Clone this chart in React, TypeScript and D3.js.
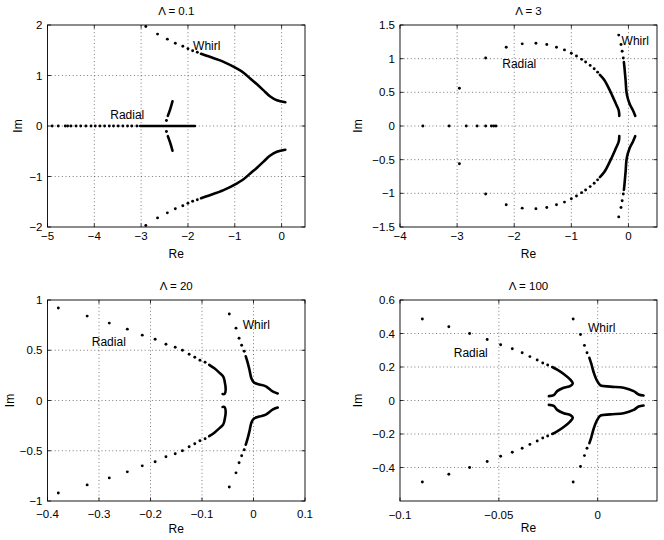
import React from "react";
import * as d3 from "d3";

type Pt = [number, number];

// ---------- Λ = 0.1 ----------
const p1XTicks = [-5, -4, -3, -2, -1, 0];
const p1YTicks = [-2, -1, 0, 1, 2];
const p1WhirlDots: Pt[] = [[-2.9, 1.97], [-2.65, 1.82], [-2.44, 1.72], [-2.27, 1.64], [-2.11, 1.58], [-2.0, 1.53], [-1.9, 1.49], [-1.8, 1.46]];
const p1WhirlTrace: Pt[] = [[-1.72, 1.43], [-1.6, 1.39], [-1.24, 1.27], [-0.96, 1.14], [-0.82, 1.06], [-0.67, 0.94], [-0.53, 0.83], [-0.39, 0.71], [-0.25, 0.59], [-0.1, 0.51], [0.08, 0.47]];
const p1RadialAxisDots: number[] = [-4.9, -4.77, -4.62, -4.57, -4.5, -4.39, -4.29, -4.18, -4.07, -3.98, -3.88, -3.78, -3.68, -3.59, -3.49, -3.39, -3.29, -3.2, -3.09];
const p1RadialAxisTrace: Pt[] = [[-3.02, 0], [-1.85, 0]];
const p1RadialPairDots: Pt[] = [[-2.46, 0.11]];
const p1RadialPairTrace: Pt[] = [[-2.33, 0.49], [-2.38, 0.33], [-2.43, 0.2]];

// ---------- Λ = 3 ----------
const p2XTicks = [-4, -3, -2, -1, 0];
const p2YTicks = [-1.5, -1, -0.5, 0, 0.5, 1, 1.5];
const p2RadialAxisDots: number[] = [-3.6, -3.14, -2.84, -2.65, -2.5, -2.4, -2.36, -2.32];
const p2RadialDots: Pt[] = [[-2.96, 0.56], [-2.5, 1.01], [-2.14, 1.17], [-1.86, 1.22], [-1.62, 1.23], [-1.43, 1.21], [-1.26, 1.17], [-1.12, 1.13], [-1.0, 1.08], [-0.91, 1.04], [-0.82, 0.99], [-0.75, 0.95], [-0.67, 0.9], [-0.6, 0.85], [-0.54, 0.8]];
const p2RadialTrace: Pt[] = [[-0.5, 0.76], [-0.42, 0.68], [-0.31, 0.5], [-0.22, 0.33], [-0.17, 0.23], [-0.16, 0.15]];
const p2WhirlDots: Pt[] = [[-0.17, 1.35], [-0.13, 1.21], [-0.11, 1.11], [-0.09, 1.01]];
const p2WhirlTrace: Pt[] = [[-0.08, 0.95], [-0.07, 0.87], [-0.05, 0.68], [-0.03, 0.48], [0.02, 0.33], [0.08, 0.23], [0.12, 0.15]];

// ---------- Λ = 20 ----------
const p3XTicks = [-0.4, -0.3, -0.2, -0.1, 0, 0.1];
const p3YTicks = [-1, -0.5, 0, 0.5, 1];
const p3RadialDots: Pt[] = [[-0.379, 0.92], [-0.323, 0.84], [-0.28, 0.77], [-0.245, 0.71], [-0.216, 0.65], [-0.191, 0.61], [-0.17, 0.56], [-0.152, 0.53], [-0.138, 0.5], [-0.125, 0.46], [-0.114, 0.43], [-0.104, 0.4], [-0.094, 0.38]];
const p3RadialTrace: Pt[] = [[-0.086, 0.355], [-0.076, 0.32], [-0.067, 0.28], [-0.059, 0.24], [-0.056, 0.19], [-0.054, 0.11], [-0.056, 0.066], [-0.06, 0.064]];
const p3WhirlDots: Pt[] = [[-0.047, 0.86], [-0.034, 0.72], [-0.028, 0.62], [-0.023, 0.55], [-0.018, 0.49]];
const p3WhirlTrace: Pt[] = [[-0.015, 0.44], [-0.012, 0.39], [-0.008, 0.31], [-0.004, 0.22], [0.001, 0.18], [0.011, 0.16], [0.024, 0.14], [0.037, 0.09], [0.047, 0.07]];

// ---------- Λ = 100 ----------
const p4XTicks = [-0.1, -0.05, 0];
const p4YTicks = [-0.4, -0.2, 0, 0.2, 0.4, 0.6];
const p4RadialDots: Pt[] = [[-0.0887, 0.487], [-0.0753, 0.44], [-0.0648, 0.4], [-0.0559, 0.364], [-0.0491, 0.333], [-0.0432, 0.309], [-0.0382, 0.285], [-0.0343, 0.262], [-0.0306, 0.242], [-0.0278, 0.224], [-0.0253, 0.212]];
const p4RadialTrace: Pt[] = [[-0.023, 0.2], [-0.0205, 0.184], [-0.0172, 0.158], [-0.0141, 0.127], [-0.0126, 0.103], [-0.0138, 0.087], [-0.0172, 0.076], [-0.0205, 0.056], [-0.0222, 0.032], [-0.0247, 0.026]];
const p4WhirlDots: Pt[] = [[-0.0124, 0.487], [-0.0087, 0.394], [-0.0067, 0.329], [-0.0054, 0.285]];
const p4WhirlTrace: Pt[] = [[-0.0042, 0.255], [-0.0032, 0.218], [-0.002, 0.167], [-0.0003, 0.117], [0.0014, 0.091], [0.0064, 0.083], [0.0131, 0.076], [0.0182, 0.056], [0.0207, 0.036], [0.0232, 0.03]];

const FONT = "'Liberation Sans', Arial, Helvetica, sans-serif";

const fmt = (v: number) => String(v).replace("-", "\u2212");

// complex eigenvalues come in conjugate pairs
const withConjugate = (pts: Pt[]): Pt[][] => [pts, pts.map(([re, im]) => [re, -im] as Pt)];

interface Note { text: string; at: Pt }

interface PanelProps {
  left: number; top: number; width: number; height: number;
  xDomain: [number, number]; yDomain: [number, number];
  xTicks: number[]; yTicks: number[];
  xTickGap: number; reGap: number;
  title: string;
  imLabelX: number;
  axisDots?: number[];
  axisTraces?: Pt[][];
  pairDots: Pt[][];
  pairTraces: Pt[][];
  notes: Note[];
}

function Panel(p: PanelProps) {
  const x = d3.scaleLinear().domain(p.xDomain).range([p.left, p.left + p.width]);
  const y = d3.scaleLinear().domain(p.yDomain).range([p.top + p.height, p.top]);
  const line = d3.line<Pt>().x(d => x(d[0])).y(d => y(d[1])).curve(d3.curveCatmullRom.alpha(0.5));
  const right = p.left + p.width;
  const bottom = p.top + p.height;

  const dots: Pt[] = [];
  (p.axisDots || []).forEach(v => dots.push([v, 0]));
  p.pairDots.forEach(arr => withConjugate(arr).forEach(a => a.forEach(pt => dots.push(pt))));
  const traces: Pt[][] = [...(p.axisTraces || [])];
  p.pairTraces.forEach(arr => withConjugate(arr).forEach(a => traces.push(a)));

  const tickLen = 3.5;
  return (
    <g>
      <rect x={p.left} y={p.top} width={p.width} height={p.height} fill="#fff" />
      {/* dotted grid */}
      {p.xTicks.filter(t => Math.abs(x(t) - p.left) > 1 && Math.abs(x(t) - right) > 1).map(t => (
        <line key={"gx" + t} x1={x(t)} x2={x(t)} y1={p.top} y2={bottom} stroke="#444" strokeWidth={0.7} strokeDasharray="1 2.6" />
      ))}
      {p.yTicks.filter(t => Math.abs(y(t) - p.top) > 1 && Math.abs(y(t) - bottom) > 1).map(t => (
        <line key={"gy" + t} x1={p.left} x2={right} y1={y(t)} y2={y(t)} stroke="#444" strokeWidth={0.7} strokeDasharray="1 2.6" />
      ))}
      {/* inward ticks */}
      {p.xTicks.map(t => (
        <g key={"tx" + t}>
          <line x1={x(t)} x2={x(t)} y1={bottom} y2={bottom - tickLen} stroke="#000" strokeWidth={0.8} />
          <line x1={x(t)} x2={x(t)} y1={p.top} y2={p.top + tickLen} stroke="#000" strokeWidth={0.8} />
          <text x={x(t)} y={bottom + p.xTickGap} textAnchor="middle" fontSize={11.5} fontFamily={FONT}>{fmt(t)}</text>
        </g>
      ))}
      {p.yTicks.map(t => (
        <g key={"ty" + t}>
          <line x1={p.left} x2={p.left + tickLen} y1={y(t)} y2={y(t)} stroke="#000" strokeWidth={0.8} />
          <line x1={right} x2={right - tickLen} y1={y(t)} y2={y(t)} stroke="#000" strokeWidth={0.8} />
          <text x={p.left - 5} y={y(t)} dy="0.36em" textAnchor="end" fontSize={11.5} fontFamily={FONT}>{fmt(t)}</text>
        </g>
      ))}
      <rect x={p.left} y={p.top} width={p.width} height={p.height} fill="none" stroke="#000" strokeWidth={0.9} />
      {/* eigenvalue traces */}
      {traces.map((tr, i) => (
        <path key={"tr" + i} d={line(tr) || ""} fill="none" stroke="#000" strokeWidth={2.6} strokeLinecap="round" strokeLinejoin="round" />
      ))}
      {dots.map((d, i) => (
        <circle key={"d" + i} cx={x(d[0])} cy={y(d[1])} r={1.45} fill="#000" />
      ))}
      {p.notes.map(n => (
        <text key={n.text} x={x(n.at[0])} y={y(n.at[1])} fontSize={12} fontFamily={FONT}>{n.text}</text>
      ))}
      <text x={(p.left + right) / 2} y={p.top - 10} textAnchor="middle" fontSize={11.5} fontFamily={FONT}>{p.title}</text>
      <text x={(p.left + right) / 2} y={bottom + p.reGap} textAnchor="middle" fontSize={12} fontFamily={FONT}>Re</text>
      <text transform={`translate(${p.imLabelX},${(p.top + bottom) / 2}) rotate(-90)`} textAnchor="middle" fontSize={12} fontFamily={FONT}>Im</text>
    </g>
  );
}

export default function App() {
  return (
    <svg width={664} height={540} style={{ position: "absolute", left: 0, top: 0, background: "#fff" }}>
      <rect width={664} height={540} fill="#fff" />
      <Panel left={47.5} top={25} width={257.5} height={202}
        xDomain={[-5, 0.5]} yDomain={[-2, 2]} xTicks={p1XTicks} yTicks={p1YTicks}
        xTickGap={12.5} reGap={31}
        title={"\u039B = 0.1"} imLabelX={21.5}
        axisDots={p1RadialAxisDots} axisTraces={[p1RadialAxisTrace]}
        pairDots={[p1WhirlDots, p1RadialPairDots]} pairTraces={[p1WhirlTrace, p1RadialPairTrace]}
        notes={[{ text: "Whirl", at: [-1.89, 1.5] }, { text: "Radial", at: [-3.66, 0.14] }]} />
      <Panel left={400} top={25} width={257} height={202}
        xDomain={[-4, 0.5]} yDomain={[-1.5, 1.5]} xTicks={p2XTicks} yTicks={p2YTicks}
        xTickGap={12.5} reGap={31}
        title={"\u039B = 3"} imLabelX={362}
        axisDots={p2RadialAxisDots}
        pairDots={[p2RadialDots, p2WhirlDots]} pairTraces={[p2RadialTrace, p2WhirlTrace]}
        notes={[{ text: "Whirl", at: [-0.12, 1.2] }, { text: "Radial", at: [-2.21, 0.86] }]} />
      <Panel left={47.5} top={300} width={257.5} height={201}
        xDomain={[-0.4, 0.1]} yDomain={[-1, 1]} xTicks={p3XTicks} yTicks={p3YTicks}
        xTickGap={16.5} reGap={32}
        title={"\u039B = 20"} imLabelX={13.5}
        pairDots={[p3RadialDots, p3WhirlDots]} pairTraces={[p3RadialTrace, p3WhirlTrace]}
        notes={[{ text: "Whirl", at: [-0.021, 0.71] }, { text: "Radial", at: [-0.314, 0.54] }]} />
      <Panel left={400} top={300} width={257} height={201}
        xDomain={[-0.1, 0.03]} yDomain={[-0.6, 0.6]} xTicks={p4XTicks} yTicks={p4YTicks}
        xTickGap={17.5} reGap={31}
        title={"\u039B = 100"} imLabelX={362}
        pairDots={[p4RadialDots, p4WhirlDots]} pairTraces={[p4RadialTrace, p4WhirlTrace]}
        notes={[{ text: "Whirl", at: [-0.0049, 0.41] }, { text: "Radial", at: [-0.0728, 0.26] }]} />
    </svg>
  );
}
